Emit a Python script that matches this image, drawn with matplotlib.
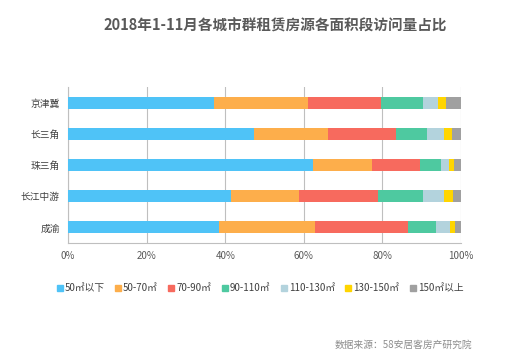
import matplotlib
matplotlib.use("Agg")
import matplotlib.pyplot as plt
from matplotlib.lines import Line2D
import numpy as np

plt.rcParams['font.family'] = ['Noto Sans CJK SC', 'DejaVu Sans']

regions = ["京津冀", "长三角", "珠三角", "长江中游", "成渝"]
segments = ["50㎡以下", "50-70㎡", "70-90㎡", "90-110㎡", "110-130㎡", "130-150㎡", "150㎡以上"]
s50 = [37.2, 47.3, 62.4, 41.6, 38.4]
s50_70 = [23.8, 18.9, 15.0, 17.3, 24.4]
s70_90 = [18.6, 17.2, 12.2, 20.1, 23.6]
s90_110 = [10.8, 8.0, 5.2, 11.3, 7.2]
s110_130 = [3.7, 4.2, 2.1, 5.3, 3.6]
s130_150 = [2.1, 2.1, 1.2, 2.4, 1.2]
s150 = [3.8, 2.3, 1.9, 2.0, 1.6]
series = [s50, s50_70, s70_90, s90_110, s110_130, s130_150, s150]
colors = ["#4FC3F7", "#FDAE4B", "#F76A5E", "#4EC9A0", "#B3D3DD", "#FFD500", "#A0A0A0"]
xticks = [0, 20, 40, 60, 80, 100]

fig = plt.figure(figsize=(5.17, 3.6), dpi=100)
ax = fig.add_axes([68/517, 1-243/360, (461-68)/517, (243-87)/360])

y = np.arange(len(regions))
left = np.zeros(len(regions))
for vals, c, name in zip(series, colors, segments):
    v = np.array(vals)
    ax.barh(y, v, left=left, height=0.39, color=c, label=name, zorder=3)
    left += v

ax.set_ylim(len(regions) - 0.5, -0.5)
ax.set_xlim(0, 100)
ax.set_xticks(xticks)
ax.set_xticklabels([f"{t}%" for t in xticks], fontsize=7, color="#595959")
ax.set_yticks(y)
ax.set_yticklabels(regions, fontsize=7, color="#404040")
ax.tick_params(axis='both', length=0, pad=6)
ax.grid(axis='x', color="#BFBFBF", linewidth=0.8, zorder=0)
for s in ["top", "right"]:
    ax.spines[s].set_visible(False)
ax.spines["left"].set_color("#BFBFBF")
ax.spines["bottom"].set_color("#BFBFBF")

fig.text(275/517, 1-25/360, "2018年1-11月各城市群租赁房源各面积段访问量占比",
         ha="center", va="center", fontsize=10.5, fontweight="bold", color="#595959")

handles = [Line2D([0], [0], marker='s', linestyle='', markersize=4,
                  markerfacecolor=c, markeredgecolor=c) for c in colors]
fig.legend(handles, segments, loc="center", bbox_to_anchor=(260/517, 1-288/360),
           ncol=7, frameon=False, fontsize=7, handlelength=0.6, handletextpad=0.2,
           columnspacing=1.1, labelcolor="#404040")

fig.text(335/517, 1-345/360, "数据来源：58安居客房产研究院", fontsize=7,
         color="#8C8C8C", ha="left", va="center")

fig.savefig("out.png", dpi=100)
